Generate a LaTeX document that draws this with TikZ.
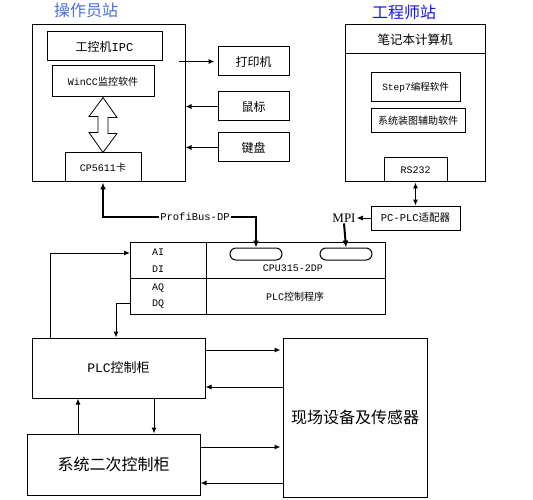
\documentclass[tikz,border=0pt]{standalone}
\usepackage{fontspec}
\setmainfont{Noto Sans CJK SC}
\setmonofont{Liberation Mono}
\newfontfamily\timesfont{Liberation Serif}
\usetikzlibrary{arrows.meta}
\definecolor{opblue}{RGB}{70,110,230}
\definecolor{engblue}{RGB}{20,20,240}
\newcommand{\fs}[1]{\fontsize{#1}{#1}\selectfont}
\tikzstyle{box}=[draw, line width=1pt, inner sep=0pt]
\tikzstyle{arr}=[-{Latex[length=6pt,width=5pt]}, line width=1pt]
\tikzstyle{bus}=[-{Latex[length=7pt,width=6pt]}, line width=2pt]
\tikzstyle{port}=[draw, line width=1pt, rounded corners=6pt, minimum width=52pt, minimum height=12pt, inner sep=0pt]

\begin{document}
\begin{tikzpicture}[x=1pt, y=-1pt]
\useasboundingbox (0,0) rectangle (533,500);
% Operator station
    \node[text=opblue] (optitle) at (86,10) {\fs{16}操作员站};
    \node[box, minimum width=153pt, minimum height=157pt] (op) at (108.5,103.5) {};
    \node[box, minimum width=115pt, minimum height=29pt] (ipc) at (104.5,46.5) {\fs{12}工控机\texttt{IPC}};
    \node[box, minimum width=102pt, minimum height=31pt] (wincc) at (103,81.5) {\fs{10}\texttt{WinCC}监控软件};
    \node[box, minimum width=76pt, minimum height=29pt] (cp) at (103,167.5) {\fs{10}\texttt{CP5611}卡};
    \draw[line width=0.8pt, fill=white] (wincc.south) -- ++(14,20) -- ++(-9,0) -- ++(0,16) -- ++(9,0)
        -- (cp.north) -- ++(-14,-20) -- ++(9,0) -- ++(0,-16) -- ++(-9,0) -- cycle;
% Peripherals
    \node[box, minimum width=71pt, minimum height=29pt] (printer) at (253.5,61.5) {\fs{12}打印机};
    \node[box, minimum width=71pt, minimum height=29pt] (mouse) at (253.5,106.5) {\fs{12}鼠标};
    \node[box, minimum width=71pt, minimum height=29pt] (keyb) at (253.5,147.5) {\fs{12}键盘};
    \coordinate (pout) at (179,61.5);
    \draw[arr, shorten >=3pt] (pout) -- (printer.west);
    \draw[arr] (mouse.west) -- (mouse.west -| op.east);
    \draw[arr] (keyb.west) -- (keyb.west -| op.east);
% Engineer station
    \node[text=engblue] (engtitle) at (404,12) {\fs{16}工程师站};
    \node[box, minimum width=140pt, minimum height=157pt] (eng) at (415,103.5) {};
    \node[box, minimum width=140pt, minimum height=29pt] (nb) at (415,39.5) {\fs{12.5}笔记本计算机};
    \node[box, minimum width=89pt, minimum height=29pt] (step7) at (415.5,87.5) {\fs{9.5}\texttt{Step7}编程软件};
    \node[box, minimum width=94pt, minimum height=24pt] (aux) at (418,121) {\fs{10}系统装图辅助软件};
    \node[box, minimum width=63pt, minimum height=24pt] (rs) at (415.5,170) {\fs{10}\texttt{RS232}};
    \node[box, minimum width=89pt, minimum height=24pt] (adp) at (415.5,218) {\fs{10.5}\texttt{PC-PLC}适配器};
    \draw[{Latex[length=6pt,width=5pt]}-{Latex[length=6pt,width=5pt]}, line width=1pt] (rs.south) -- (adp.north);
% PLC rack
    \node[box, minimum width=255pt, minimum height=72pt] (rack) at (257.5,278) {};
    \coordinate (div) at (206,278);
    \draw[line width=1pt] (rack.west) -- (rack.east);
    \draw[line width=1pt] (rack.north -| div) -- (rack.south -| div);
    \node[port] (dp) at (256,254) {};
    \node[port] (mpiport) at (346,254) {};
    \node[align=center, font=\fontsize{10}{17}\selectfont\ttfamily] (aidi) at (158,261) {AI\\DI};
    \node[align=center, font=\fontsize{10}{16}\selectfont\ttfamily] (aqdq) at (158,296) {AQ\\DQ};
    \node (cpu) at (293,268) {\fs{10}\texttt{CPU315-2DP}};
    \node (prog) at (295,297) {\fs{10}\texttt{PLC}控制程序};
% Buses
    \node[inner sep=1pt] (pb) at (195,217) {\fs{10.5}\texttt{ProfiBus-DP}};
    \draw[bus] (pb.west) -| (cp.south);
    \draw[bus] (pb.east) -| (dp.north);
    \node[inner sep=1pt] (mpi) at (344,218) {\timesfont\fs{13}MPI};
    \draw[arr] (adp.west) -- (mpi.east);
    \draw[bus] (mpi.south) -- (mpiport.north);
% Cabinets and field
    \node[box, minimum width=173pt, minimum height=60pt] (plcc) at (118.5,368) {\fs{13}\texttt{PLC}控制柜};
    \node[box, minimum width=173pt, minimum height=61pt] (sec) at (113.5,464.5) {\fs{16}系统二次控制柜};
    \node[box, minimum width=144pt, minimum height=159pt] (field) at (355,417.5) {\fs{16}现场设备及传感器};
    \coordinate (ain) at (130,253);
    \coordinate (aleft) at (50,253);
    \coordinate (aqout) at (130,303);
    \coordinate (aqdown) at (116,303);
    \draw[arr] (plcc.north -| aleft) |- (ain);
    \draw[arr] (aqout) -| (plcc.north -| aqdown);
    \coordinate (r1) at (0,350);
    \coordinate (r2) at (0,387);
    \coordinate (r3) at (0,447);
    \coordinate (r4) at (0,483);
    \draw[arr, shorten >=2pt] (plcc.east |- r1) -- (field.west |- r1);
    \draw[arr] (field.west |- r2) -- (plcc.east |- r2);
    \draw[arr, shorten >=2pt] (sec.east |- r3) -- (field.west |- r3);
    \draw[arr] (field.west |- r4) -- (sec.east |- r4);
    \coordinate (c1) at (78,0);
    \coordinate (c2) at (154,0);
    \draw[arr] (sec.north -| c1) -- (plcc.south -| c1);
    \draw[arr] (plcc.south -| c2) -- (sec.north -| c2);
\end{tikzpicture}
\end{document}
